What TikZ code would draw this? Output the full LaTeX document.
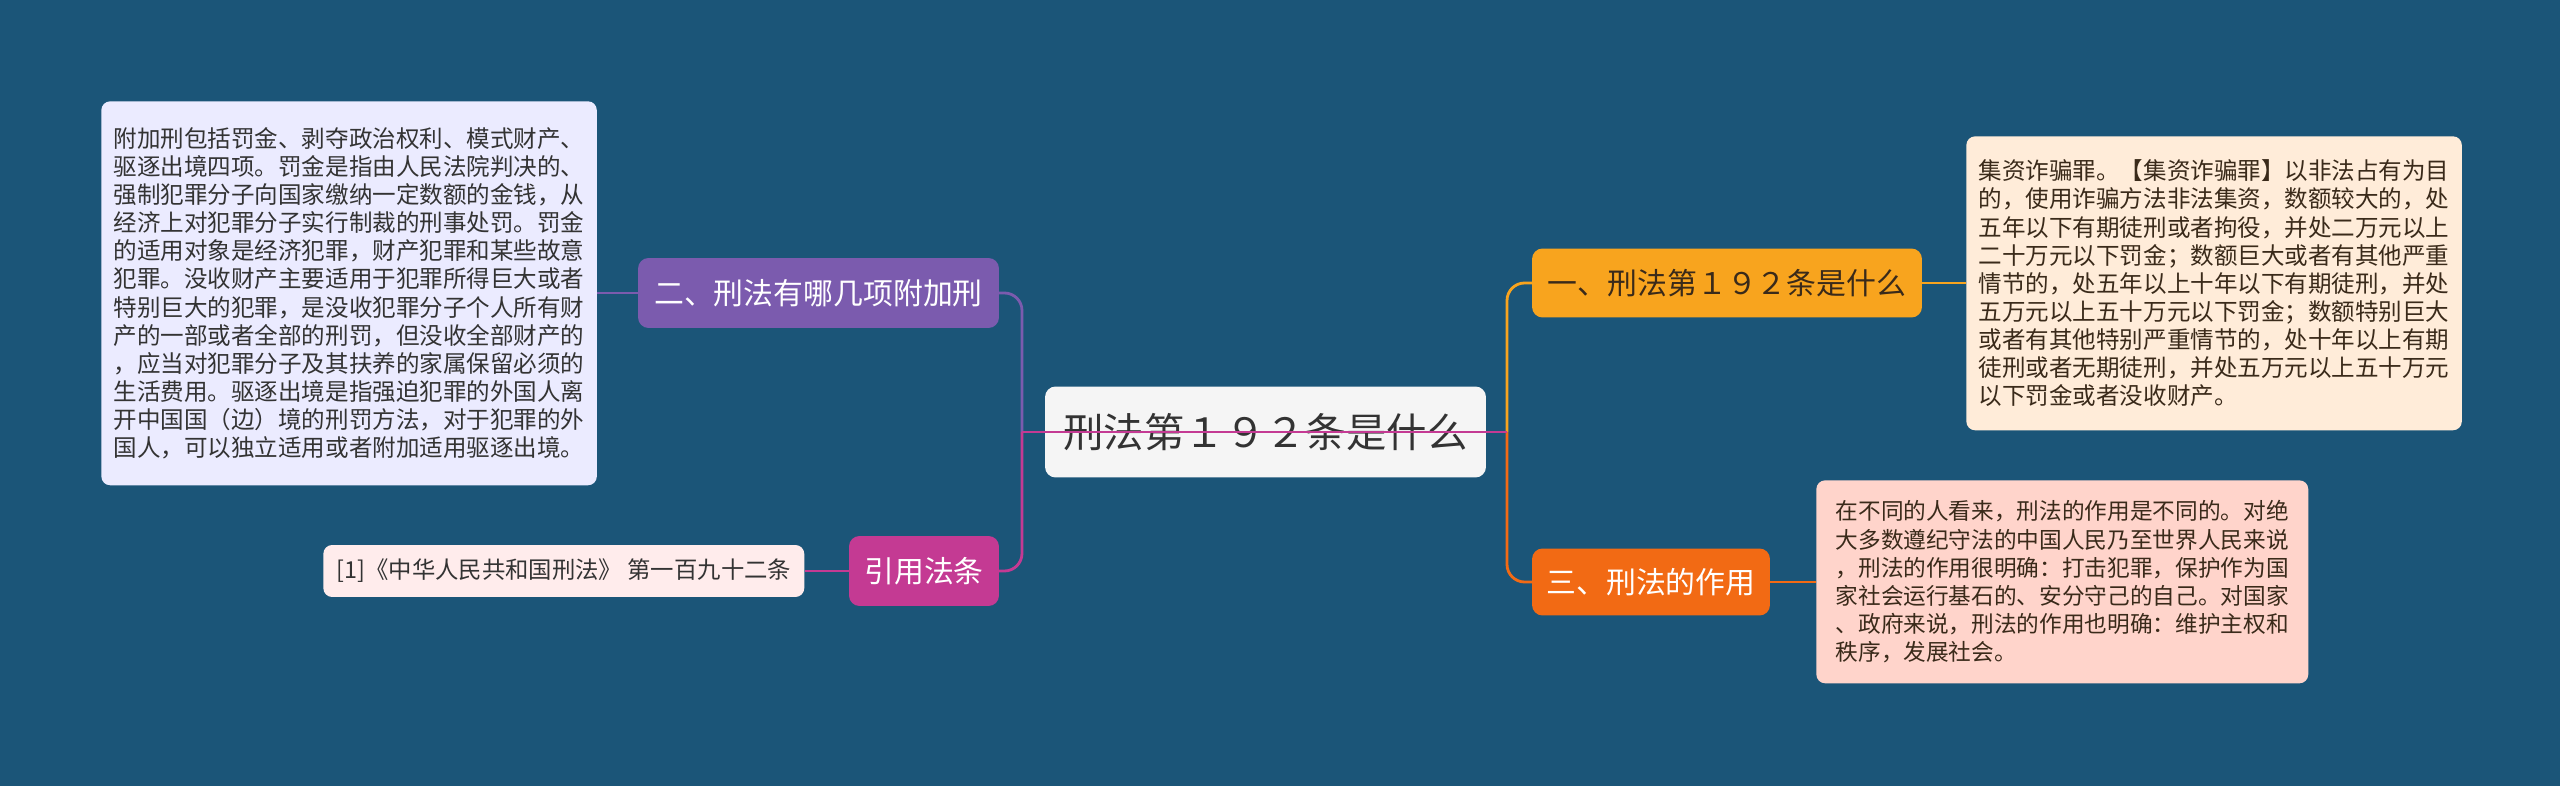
\documentclass[tikz,border=0pt]{standalone}
\usepackage{fontspec}
\setmainfont{Noto Sans CJK SC}
\usetikzlibrary{positioning}
\definecolor{bgblue}{HTML}{1B5578}
\definecolor{orangeA}{HTML}{F8A41E}
\definecolor{orangeB}{HTML}{F26A14}
\definecolor{purpleA}{HTML}{7B5BAE}
\definecolor{magentaA}{HTML}{C43A93}
\definecolor{textdark}{HTML}{3A2A1A}
\tikzset{
  topic/.style={draw=none,rounded corners=6pt,inner sep=0pt,font=\fontsize{17}{17}\selectfont},
  leaf/.style={rounded corners=5pt,inner sep=7pt,align=left,text=textdark,
    font=\fontsize{13.4}{16}\selectfont},
  link/.style={line width=1.6pt,rounded corners=10pt}
}
\begin{document}
\begin{tikzpicture}[x=0.02cm,y=-0.02cm]
  \fill[bgblue] (0,0) rectangle (2560,786);
  \useasboundingbox (0,0) rectangle (2560,786);
  % centre
  \node[topic,fill=gray!8,minimum width=8.82cm,minimum height=1.82cm,
    font=\fontsize{23}{23}\selectfont,text=black!80] (root) at (1265.5,432) {刑法第１９２条是什么};
  % connectors
  \draw[link,orangeA] (1507,432) |- (1727,283);
  \draw[link,orangeB] (1507,432) |- (1651,582);
  \draw[link,purpleA] (1022,432) |- (818,293);
  \draw[link,magentaA] (1022,432) |- (924,571);
  \draw[line width=1.6pt,magentaA] (1022,432) -- (1507,432);
  % branches
  \node[topic,fill=orangeA,minimum width=7.8cm,minimum height=1.38cm,text=textdark] (b1) at (1727,283) {一、刑法第１９２条是什么};
  \node[topic,fill=orangeB,minimum width=4.76cm,minimum height=1.34cm,text=white] (b3) at (1651,582) {三、刑法的作用};
  \node[topic,fill=purpleA,minimum width=7.22cm,minimum height=1.4cm,text=white] (b2) at (818.5,293) {二、刑法有哪几项附加刑};
  \node[topic,fill=magentaA,minimum width=3cm,minimum height=1.4cm,text=white] (b4) at (924,571) {引用法条};
  % leaves
  \node[leaf,fill=orange!15,minimum width=9.84cm,minimum height=5.88cm,anchor=north west] (l1) at (1966,136) {集资诈骗罪。【集资诈骗罪】以非法占有为目\\的，使用诈骗方法非法集资，数额较大的，处\\五年以下有期徒刑或者拘役，并处二万元以上\\二十万元以下罚金；数额巨大或者有其他严重\\情节的，处五年以上十年以下有期徒刑，并处\\五万元以上五十万元以下罚金；数额特别巨大\\或者有其他特别严重情节的，处十年以上有期\\徒刑或者无期徒刑，并处五万元以上五十万元\\以下罚金或者没收财产。};
  \node[leaf,fill=orange!12!pink!60,minimum width=9.84cm,minimum height=4.06cm,anchor=north west,
    font=\fontsize{12.9}{16}\selectfont] (l3) at (1816,480) {在不同的人看来，刑法的作用是不同的。对绝\\大多数遵纪守法的中国人民乃至世界人民来说\\，刑法的作用很明确：打击犯罪，保护作为国\\家社会运行基石的、安分守己的自己。对国家\\、政府来说，刑法的作用也明确：维护主权和\\秩序，发展社会。};
  \node[leaf,fill=blue!8!white,minimum width=9.84cm,minimum height=7.68cm,anchor=north west,text=black!80] (l2) at (101,101) {附加刑包括罚金、剥夺政治权利、模式财产、\\驱逐出境四项。罚金是指由人民法院判决的、\\强制犯罪分子向国家缴纳一定数额的金钱，从\\经济上对犯罪分子实行制裁的刑事处罚。罚金\\的适用对象是经济犯罪，财产犯罪和某些故意\\犯罪。没收财产主要适用于犯罪所得巨大或者\\特别巨大的犯罪，是没收犯罪分子个人所有财\\产的一部或者全部的刑罚，但没收全部财产的\\，应当对犯罪分子及其扶养的家属保留必须的\\生活费用。驱逐出境是指强迫犯罪的外国人离\\开中国国（边）境的刑罚方法，对于犯罪的外\\国人，可以独立适用或者附加适用驱逐出境。};
  \node[leaf,fill=pink!30,minimum width=9.62cm,minimum height=1.04cm,anchor=west,inner sep=5pt,
    text=black!80,font=\fontsize{13.3}{14}\selectfont] (l4) at (323,571) {[1]《中华人民共和国刑法》 第一百九十二条};
  % leaf links
  \draw[line width=1.6pt,orangeA] (b1.east) -- (l1.west |- b1.east);
  \draw[line width=1.6pt,orangeB] (b3.east) -- (l3.west |- b3.east);
  \draw[line width=1.6pt,purpleA] (b2.west) -- (l2.east |- b2.west);
  \draw[line width=1.6pt,magentaA] (b4.west) -- (l4.east);
\end{tikzpicture}
\end{document}
